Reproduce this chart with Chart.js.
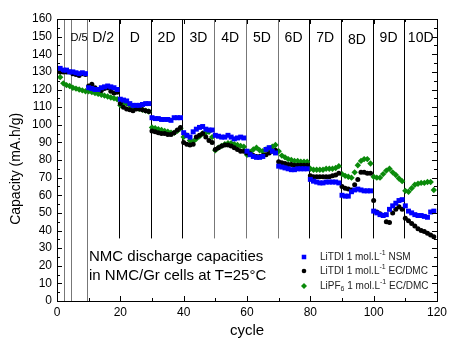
<!DOCTYPE html>
<html lang="en">
<head>
    <meta charset="UTF-8">
    <title>NMC discharge capacities</title>
    <style>
        html, body { margin: 0; padding: 0; background: #fff; }
        canvas { display: block; }
    </style>
</head>
<body>

    <canvas id="capChart" width="451" height="340"></canvas>

    <script src="https://cdn.jsdelivr.net/npm/chart.js"></script>

    <script>
        // cycle numbers
        const cycles = [
            1, 2, 3, 4, 5, 6, 7, 8, 9,
            10, 11, 12, 13, 14, 15, 16, 17, 18, 19,
            20, 21, 22, 23, 24, 25, 26, 27, 28, 29,
            30, 31, 32, 33, 34, 35, 36, 37, 38, 39,
            40, 41, 42, 43, 44, 45, 46, 47, 48, 49,
            50, 51, 52, 53, 54, 55, 56, 57, 58, 59,
            60, 61, 62, 63, 64, 65, 66, 67, 68, 69,
            70, 71, 72, 73, 74, 75, 76, 77, 78, 79,
            80, 81, 82, 83, 84, 85, 86, 87, 88, 89,
            90, 91, 92, 93, 94, 95, 96, 97, 98, 99,
            100, 101, 102, 103, 104, 105, 106, 107, 108, 109,
            110, 111, 112, 113, 114, 115, 116, 117, 118, 119
        ];

        // LiTDI 1 mol/L NSM (blue squares)
        const litdiNsm = [
            132, 131, 131, 130, 130, 129.5, 129, 129.5, 129,
            121, 120.5, 120, 120, 121, 121.5, 122, 121.5, 121, 120,
            114.5, 114, 113.5, 112, 111, 111, 111, 111.5, 112, 112,
            104, 103.5, 103.5, 103, 103, 103, 102.5, 104, 104, 104,
            95.5, 94, 93, 96, 97.5, 98.5, 99, 97.5, 97, 97,
            94, 93.5, 93, 93, 94, 93, 92, 92.5, 93, 92.5,
            85, 83, 82, 81.5, 81.5, 82, 86, 87, 85, 84,
            76.5, 76, 75.5, 75, 74.5, 74.5, 75, 75, 75, 75,
            69, 68, 67.5, 67, 67, 67.5, 67.5, 67.5, 67.5, 67,
            60, 59.5, 59.5, 62, 63, 63.5, 63, 62.5, 62.5, 62.5,
            51, 50, 49, 48.5, 49, 52, 54, 55.5, 57, 57.5,
            54, 51, 50, 49, 48.5, 48.5, 48, 47.5, 50.5, 51
        ];

        // LiTDI 1 mol/L EC/DMC (black circles)
        const litdiEcDmc = [
            130, 130, 130, 130, 129, 128.5, 128, 129, 128.5,
            122, 123, 121, 120, 119.5, 120.5, 121, 119, 118, 118.5,
            112, 110, 109, 108.5, 108, 109, 109, 108.5, 108, 107.5,
            96.5, 96, 95.5, 95, 95, 94.5, 94.5, 95.5, 97, 98.5,
            90, 89, 88.5, 89, 93, 94, 95, 93, 91, 90,
            86, 87, 88, 88.5, 88.5, 88, 87, 86, 85, 85,
            84, 83.5, 82.5, 82, 82, 82.5, 83, 84, 85, 85.5,
            79, 78.5, 78, 77.5, 77.5, 77, 77, 77, 77, 77,
            71, 70.5, 70.5, 70.5, 70.5, 70.5, 70.5, 71, 71.5, 72.5,
            65, 64, 63.5, 63, 66, 69, 73, 73, 72.5, 72.5,
            57, 50.5, 49.5, 48.5, 45, 44.5, 50, 52, 53.5, 52,
            47, 45.5, 44, 42.5, 41, 40, 39.5, 38.5, 37.5, 36.5
        ];

        // LiPF6 1 mol/L EC/DMC (green diamonds)
        const lipf6EcDmc = [
            127, 123.5, 122.5, 122, 121, 120.5, 120, 119.5, 119,
            119, 118.5, 118, 117.5, 117, 116.5, 116, 115.5, 115, 114.5,
            111, 112.5, 112, 111, 110, 109.5, 109, 108.5, 108, 107.5,
            98.5, 98, 97.5, 97, 96.5, 96, 95.5, 95.5, 96.5, 98,
            93, 94, 91, 90.5, 92, 93.5, 95, 95.5, 96, 93,
            85.5, 87, 88, 89, 89.5, 89.5, 89, 88.5, 88, 87.5,
            83, 84.5, 86, 87, 85.5, 85, 86, 86.5, 87.5, 88.5,
            85, 82.5, 81.5, 80.5, 80, 79.5, 79.5, 79, 79, 79,
            75, 74.5, 74.5, 74.5, 74.5, 75, 75, 75, 75.5, 76.5,
            72, 71, 70.5, 70, 73, 77, 79.5, 80.5, 80.5, 78,
            70.5, 70, 70, 72, 74, 75, 73, 71.5, 69.5, 68,
            62.5, 62, 64, 66, 66.5, 67, 67, 67.5, 67.5, 63
        ];

        // rate steps: boundaries (cycle) and labels between them
        const stepBounds = [2.3, 4.4, 9.5, 19.6, 29.6, 39.6, 49.7, 59.7, 69.7, 79.7, 89.7, 99.7, 109.7];
        const stepLabels = ['D/5', 'D/2', 'D', '2D', '3D', '4D', '5D', '6D', '7D', '8D', '9D', '10D'];

        const FONT = 'Liberation Sans, Arial, sans-serif';

        function toPoints(vals) {
            return vals.map((v, i) => ({ x: cycles[i], y: v }));
        }

        // draw text with sub/superscript parts: [[text, 'n'|'sup'|'sub'], ...]
        function richText(ctx, parts, x, y, size) {
            let cx = x;
            parts.forEach(p => {
                const small = p[1] !== 'n';
                ctx.font = (small ? Math.round(size * 0.65) : size) + 'px ' + FONT;
                let dy = 0;
                if (p[1] === 'sup') dy = -size * 0.38;
                if (p[1] === 'sub') dy = size * 0.3;
                ctx.fillText(p[0], cx, y + dy);
                cx += ctx.measureText(p[0]).width;
            });
        }

        const overlay = {
            id: 'overlay',
            beforeDatasetsDraw(chart) {
                const ctx = chart.ctx;
                const xs = chart.scales.x, ys = chart.scales.y;
                const a = chart.chartArea;
                ctx.save();
                // step separators
                stepBounds.forEach((b, i) => {
                    const px = Math.round(xs.getPixelForValue(b)) + 0.5;
                    const bottom = i < 3 ? a.bottom : ys.getPixelForValue(35.5);
                    ctx.strokeStyle = (i < 3 || (i >= 6 && i <= 8)) ? '#777' : '#000';
                    ctx.lineWidth = 1;
                    ctx.beginPath();
                    ctx.moveTo(px, a.top);
                    ctx.lineTo(px, bottom);
                    ctx.stroke();
                });
                ctx.restore();
            },
            afterDatasetsDraw(chart) {
                const ctx = chart.ctx;
                const xs = chart.scales.x, ys = chart.scales.y;
                const a = chart.chartArea;
                ctx.save();
                // frame
                ctx.strokeStyle = '#000';
                ctx.lineWidth = 1;
                ctx.strokeRect(Math.round(a.left) + 0.5, Math.round(a.top) + 0.5,
                    Math.round(a.right - a.left), Math.round(a.bottom - a.top));
                // inward ticks
                ctx.beginPath();
                for (let v = 0; v <= 160; v += 5) {
                    const py = Math.round(ys.getPixelForValue(v)) + 0.5;
                    const len = v % 10 === 0 ? 5 : 3;
                    ctx.moveTo(a.left, py); ctx.lineTo(a.left + len, py);
                    ctx.moveTo(a.right, py); ctx.lineTo(a.right - len, py);
                }
                for (let c = 0; c <= 120; c += 10) {
                    const px = Math.round(xs.getPixelForValue(c)) + 0.5;
                    const len = c % 20 === 0 ? 5 : 3;
                    ctx.moveTo(px, a.bottom); ctx.lineTo(px, a.bottom - len);
                    ctx.moveTo(px, a.top); ctx.lineTo(px, a.top + len);
                }
                ctx.stroke();

                // y axis title
                ctx.fillStyle = '#000';
                ctx.save();
                ctx.translate(16, ys.getPixelForValue(75));
                ctx.rotate(-Math.PI / 2);
                ctx.textAlign = 'center';
                ctx.textBaseline = 'middle';
                ctx.font = '14px ' + FONT;
                ctx.fillText('Capacity (mA.h/g)', 0, 0);
                ctx.restore();

                // step labels
                ctx.textAlign = 'center';
                ctx.textBaseline = 'middle';
                stepLabels.forEach((lab, i) => {
                    const lo = stepBounds[i + 1];
                    const hi = i + 2 < stepBounds.length ? stepBounds[i + 2] : 120;
                    const cx = xs.getPixelForValue((lo + hi) / 2);
                    ctx.font = (i === 0 ? 11 : 14) + 'px ' + FONT;
                    ctx.fillText(lab, cx, lab === '8D' ? 40 : 38);
                });

                // annotation
                ctx.textAlign = 'left';
                ctx.font = '15px ' + FONT;
                ctx.fillText('NMC discharge capacities', 89, 257);
                ctx.fillText('in NMC/Gr cells at T=25°C', 89, 276);

                // legend
                const rows = [
                    { color: '#0000ff', style: 'rect', r: 3.2, parts: [['LiTDI 1 mol.L', 'n'], ['-1', 'sup'], [' NSM', 'n']] },
                    { color: '#000000', style: 'circle', r: 2.3, parts: [['LiTDI 1 mol.L', 'n'], ['-1', 'sup'], [' EC/DMC', 'n']] },
                    { color: '#0a8a0a', style: 'rectRot', r: 3, parts: [['LiPF', 'n'], ['6', 'sub'], [' 1 mol.L', 'n'], ['-1', 'sup'], [' EC/DMC', 'n']] }
                ];
                const rowY = [257, 271, 286];
                rows.forEach((r, i) => {
                    ctx.fillStyle = r.color;
                    Chart.helpers.drawPoint(ctx, { pointStyle: r.style, radius: r.r, borderWidth: 0 }, 304, rowY[i]);
                    ctx.fillStyle = '#222';
                    ctx.textBaseline = 'middle';
                    richText(ctx, r.parts, 320, rowY[i], 10);
                });
                ctx.restore();
            }
        };

        const ctx = document.getElementById('capChart').getContext('2d');
        const capChart = new Chart(ctx, {
            type: 'scatter',
            data: {
                datasets: [
                    {
                        label: 'LiTDI NSM',
                        data: toPoints(litdiNsm),
                        pointStyle: 'rect',
                        pointRadius: 3.5,
                        backgroundColor: '#0000ff',
                        borderWidth: 0
                    },
                    {
                        label: 'LiTDI EC/DMC',
                        data: toPoints(litdiEcDmc),
                        pointStyle: 'circle',
                        pointRadius: 2.5,
                        backgroundColor: '#000000',
                        borderWidth: 0
                    },
                    {
                        label: 'LiPF6 EC/DMC',
                        data: toPoints(lipf6EcDmc),
                        pointStyle: 'rectRot',
                        pointRadius: 3.2,
                        backgroundColor: '#0a8a0a',
                        borderWidth: 0
                    }
                ]
            },
            options: {
                responsive: false,
                animation: false,
                devicePixelRatio: 1,
                layout: { padding: { top: 19, right: 9, left: 0, bottom: 0 } },
                plugins: {
                    legend: { display: false },
                    tooltip: { enabled: false }
                },
                scales: {
                    x: {
                        type: 'linear',
                        min: 0,
                        max: 120,
                        grid: { display: false, drawTicks: false },
                        border: { display: false },
                        ticks: { stepSize: 20, padding: 4, color: '#000', font: { family: FONT, size: 12 } },
                        title: { display: true, text: 'cycle', color: '#000', padding: { top: 4, bottom: 0 }, font: { family: FONT, size: 15 } },
                        afterFit: (s) => { s.height = 39; }
                    },
                    y: {
                        min: 0,
                        max: 160,
                        grid: { display: false, drawTicks: false },
                        border: { display: false },
                        ticks: { stepSize: 10, padding: 5, color: '#000', font: { family: FONT, size: 12 } },
                        afterFit: (s) => { s.width = 57; }
                    }
                }
            },
            plugins: [overlay]
        });
    </script>

</body>
</html>
